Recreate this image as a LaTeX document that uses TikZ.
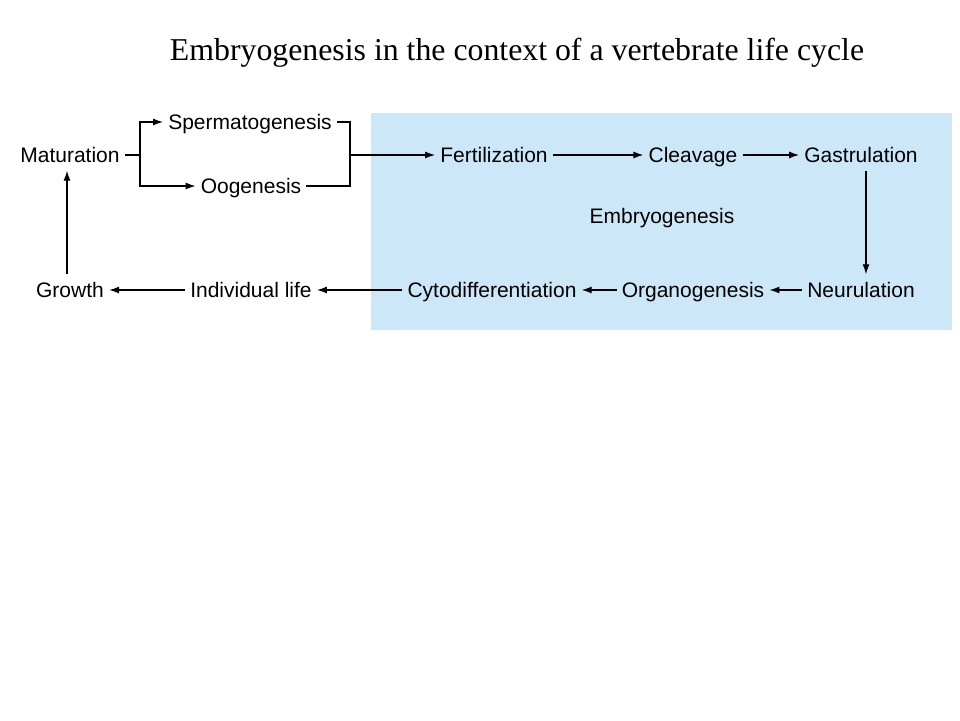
\documentclass[tikz,border=0pt]{standalone}
\usepackage{fontspec}
\setmainfont{Liberation Serif}
\setsansfont{Liberation Sans}
\usepackage{xcolor}
\usetikzlibrary{arrows.meta,positioning,calc}
\definecolor{embryoblue}{RGB}{204,231,248}
\tikzset{
  stage/.style={font=\sffamily\fontsize{21}{21}\selectfont, inner xsep=5pt, inner ysep=8pt, text height=15pt, text depth=0pt},
  flow/.style={line width=1.3pt, -{Latex[length=10pt,width=7pt]}},
  link/.style={line width=1.3pt}
}
\begin{document}
\begin{tikzpicture}[x=1pt,y=-1pt]
	\useasboundingbox (0,0) rectangle (960,720);
	\fill[white] (0,0) rectangle (960,720);
	\fill[embryoblue] (371,113) rectangle (952,330);
	\node[anchor=base,font=\fontsize{31.8}{32}\selectfont] (title) at (517,60) {Embryogenesis in the context of a vertebrate life cycle};
	% stages
	\node[stage] (maturation) at (70,155) {Maturation};
	\node[stage] (sperm) at (250,122) {Spermatogenesis};
	\node[stage] (oog) at (251,186) {Oogenesis};
	\node[stage] (fert) at (494,155) {Fertilization};
	\node[stage] (cleav) at (693,155) {Cleavage};
	\node[stage] (gastr) at (861,155) {Gastrulation};
	\node[stage] (embryo) at (662,216) {Embryogenesis};
	\node[stage] (neur) at (861,290) {Neurulation};
	\node[stage] (organ) at (693,290) {Organogenesis};
	\node[stage] (cyto) at (492,290) {Cytodifferentiation};
	\node[stage] (indiv) at (251,290) {Individual life};
	\node[stage] (growth) at (70,290) {Growth};
	\coordinate (split) at (140,155);
	\coordinate (join) at (350,155);
	% gametes
	\draw[link] (maturation.east) -- (split);
	\draw[flow] (split) |- (sperm.west);
	\draw[flow] (split) |- (oog.west);
	\draw[link] (sperm.east) -| (join);
	\draw[link] (oog.east) -| (join);
	\draw[flow] (join) -- (fert.west);
	% embryo
	\draw[flow] (fert) -- (cleav);
	\draw[flow] (cleav) -- (gastr);
	\draw[flow] ([xshift=5pt]gastr.south) -- ([xshift=5pt]neur.north);
	\draw[flow] (neur) -- (organ);
	\draw[flow] (organ) -- (cyto);
	\draw[flow] (cyto) -- (indiv);
	\draw[flow] (indiv) -- (growth);
	\draw[flow] ([xshift=-3pt]growth.north) -- ([xshift=-3pt]maturation.south);
\end{tikzpicture}
\end{document}
